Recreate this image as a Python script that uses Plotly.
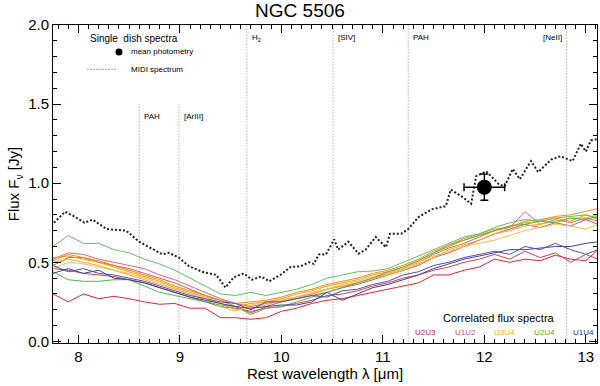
import plotly.graph_objects as go

# common wavelength grid of the correlated flux spectra [micron]
wl = [7.75, 7.90, 8.05, 8.20, 8.35, 8.50, 8.65, 8.80, 8.95, 9.10, 9.25, 9.40,
      9.55, 9.70, 9.85, 10.00, 10.15, 10.30, 10.45, 10.60, 10.75, 10.90, 11.05,
      11.20, 11.35, 11.50, 11.65, 11.80, 11.95, 12.10, 12.25, 12.40, 12.55,
      12.70, 12.85, 13.00, 13.12]

# correlated flux per baseline [Jy]
u2u3_a = [0.30, 0.25, 0.30, 0.27, 0.285, 0.27, 0.25, 0.235, 0.24, 0.21, 0.21, 0.15,
          0.15, 0.14, 0.15, 0.19, 0.21, 0.24, 0.26, 0.27, 0.29, 0.31, 0.33,
          0.35, 0.37, 0.42, 0.42, 0.45, 0.47, 0.52, 0.50, 0.52, 0.51,
          0.545, 0.52, 0.51, 0.58]
u2u3_b = [0.46, 0.45, 0.43, 0.42, 0.41, 0.39, 0.37, 0.34, 0.31, 0.28, 0.25, 0.22,
          0.21, 0.19, 0.21, 0.22, 0.24, 0.26, 0.29, 0.30, 0.32, 0.35, 0.37,
          0.40, 0.42, 0.45, 0.47, 0.50, 0.52, 0.55, 0.52, 0.57, 0.53,
          0.56, 0.50, 0.55, 0.52]
u1u2_a = [0.52, 0.56, 0.55, 0.52, 0.50, 0.48, 0.46, 0.42, 0.39, 0.35, 0.31, 0.27,
          0.24, 0.22, 0.24, 0.26, 0.28, 0.30, 0.33, 0.35, 0.37, 0.40, 0.43,
          0.46, 0.50, 0.55, 0.59, 0.62, 0.66, 0.70, 0.72, 0.82, 0.74,
          0.77, 0.75, 0.78, 0.76]
u1u2_b = [0.48, 0.53, 0.53, 0.50, 0.48, 0.46, 0.43, 0.40, 0.37, 0.33, 0.29, 0.26,
          0.22, 0.18, 0.22, 0.25, 0.27, 0.29, 0.31, 0.34, 0.36, 0.39, 0.42,
          0.45, 0.48, 0.53, 0.56, 0.60, 0.64, 0.68, 0.71, 0.74, 0.72,
          0.75, 0.73, 0.77, 0.74]
u3u4_a = [0.53, 0.54, 0.52, 0.50, 0.47, 0.44, 0.41, 0.38, 0.34, 0.31, 0.28, 0.26,
          0.22, 0.24, 0.25, 0.27, 0.30, 0.32, 0.35, 0.37, 0.39, 0.42, 0.44,
          0.47, 0.51, 0.56, 0.61, 0.64, 0.67, 0.70, 0.73, 0.75, 0.76,
          0.78, 0.76, 0.80, 0.77]
u3u4_b = [0.50, 0.52, 0.50, 0.48, 0.45, 0.42, 0.39, 0.36, 0.33, 0.30, 0.27, 0.24,
          0.20, 0.21, 0.23, 0.26, 0.28, 0.30, 0.33, 0.35, 0.37, 0.40, 0.42,
          0.45, 0.49, 0.53, 0.58, 0.61, 0.64, 0.68, 0.70, 0.73, 0.74,
          0.76, 0.78, 0.78, 0.80]
u3u4_c = [0.46, 0.50, 0.49, 0.47, 0.45, 0.43, 0.40, 0.37, 0.33, 0.30, 0.26, 0.22,
          0.19, 0.23, 0.25, 0.26, 0.28, 0.31, 0.33, 0.36, 0.38, 0.41, 0.43,
          0.46, 0.50, 0.54, 0.57, 0.60, 0.62, 0.64, 0.67, 0.70, 0.72,
          0.74, 0.73, 0.71, 0.74]
u3u4_d = [0.51, 0.55, 0.53, 0.51, 0.48, 0.45, 0.42, 0.39, 0.35, 0.32, 0.29, 0.26,
          0.24, 0.25, 0.26, 0.28, 0.31, 0.33, 0.36, 0.38, 0.40, 0.43, 0.45,
          0.48, 0.52, 0.57, 0.61, 0.65, 0.68, 0.71, 0.72, 0.76, 0.77,
          0.79, 0.80, 0.82, 0.84]
u2u4_a = [0.60, 0.67, 0.62, 0.62, 0.58, 0.56, 0.52, 0.49, 0.45, 0.40, 0.35, 0.30,
          0.29, 0.31, 0.29, 0.31, 0.33, 0.36, 0.40, 0.42, 0.44, 0.445, 0.46,
          0.50, 0.54, 0.58, 0.62, 0.66, 0.68, 0.72, 0.75, 0.77, 0.76,
          0.78, 0.79, 0.80, 0.78]
u2u4_b = [0.44, 0.39, 0.38, 0.38, 0.39, 0.39, 0.35, 0.31, 0.29, 0.27, 0.25, 0.23,
          0.22, 0.17, 0.21, 0.22, 0.25, 0.28, 0.31, 0.34, 0.37, 0.40, 0.44,
          0.47, 0.51, 0.56, 0.60, 0.64, 0.67, 0.70, 0.73, 0.74, 0.76,
          0.75, 0.78, 0.77, 0.79]
u1u4_a = [0.43, 0.46, 0.43, 0.45, 0.40, 0.39, 0.37, 0.34, 0.31, 0.28, 0.26, 0.24,
          0.22, 0.21, 0.22, 0.23, 0.23, 0.25, 0.31, 0.26, 0.30, 0.34, 0.36,
          0.39, 0.42, 0.46, 0.49, 0.52, 0.54, 0.56, 0.58, 0.58, 0.59,
          0.60, 0.60, 0.62, 0.63]
u1u4_b = [0.48, 0.44, 0.46, 0.43, 0.42, 0.40, 0.38, 0.35, 0.32, 0.29, 0.27, 0.25,
          0.24, 0.20, 0.25, 0.25, 0.27, 0.29, 0.28, 0.32, 0.33, 0.36, 0.38,
          0.42, 0.44, 0.48, 0.50, 0.53, 0.55, 0.57, 0.55, 0.60, 0.58,
          0.62, 0.58, 0.55, 0.58]

# MIDI total flux spectrum
midi_wl = [7.76, 7.87, 7.96, 8.06, 8.14, 8.28, 8.47, 8.60, 8.70, 8.83, 8.89, 8.99,
           9.09, 9.22, 9.36, 9.45, 9.53, 9.63, 9.71, 9.80, 9.88, 9.99, 10.09,
           10.19, 10.27, 10.32, 10.37, 10.44, 10.52, 10.56, 10.66, 10.76, 10.83,
           10.93, 11.03, 11.07, 11.18, 11.25, 11.35, 11.48, 11.62, 11.67, 11.79,
           11.87, 11.92, 12.02, 12.14, 12.20, 12.28, 12.35, 12.46, 12.53, 12.66,
           12.75, 12.87, 12.95, 13.00, 13.05, 13.12]
midi_flux = [0.75, 0.82, 0.79, 0.75, 0.77, 0.71, 0.70, 0.63, 0.595, 0.55, 0.56, 0.53,
             0.475, 0.44, 0.42, 0.34, 0.405, 0.43, 0.39, 0.41, 0.38, 0.42, 0.47,
             0.475, 0.50, 0.49, 0.55, 0.55, 0.645, 0.58, 0.63, 0.555, 0.58,
             0.66, 0.595, 0.68, 0.68, 0.71, 0.785, 0.835, 0.855, 0.96, 0.91,
             0.87, 1.045, 1.075, 0.995, 0.98, 1.09, 1.025, 1.14, 1.07, 1.15,
             1.17, 1.14, 1.25, 1.20, 1.27, 1.28]

# mean photometry
phot_wl = [12.0]
phot_flux = [0.975]
phot_xerr = [0.2]
phot_yerr = [0.083]

# spectral features: name, wavelength, top of the marker line
feature_names = ["PAH", "[ArIII]", "H<sub>2</sub>", "[SIV]", "PAH", "[NeII]"]
feature_wl = [8.6, 8.99, 9.66, 10.51, 11.25, 12.81]
feature_top = [1.5, 1.5, 2.0, 2.0, 2.0, 2.0]

baselines = ["U2U3", "U1U2", "U3U4", "U2U4", "U1U4"]
label_colors = ["#cc2233", "#c06070", "#f0b030", "#40b040", "#303080"]

spectra = [
    (u2u3_a, "#e02830"), (u2u3_b, "#d84050"),
    (u1u2_a, "#d86878"), (u1u2_b, "#c85868"),
    (u3u4_a, "#ff9a10"), (u3u4_b, "#ffa820"), (u3u4_c, "#f8c040"), (u3u4_d, "#ff8c00"),
    (u2u4_a, "#60c060"), (u2u4_b, "#50b850"),
    (u1u4_a, "#4040a0"), (u1u4_b, "#5050b0"),
]

FONT = "Liberation Sans, Arial, sans-serif"

fig = go.Figure()

for fw, ft in zip(feature_wl, feature_top):
    fig.add_trace(go.Scatter(x=[fw, fw], y=[-0.02, ft], mode="lines",
                             line=dict(color="#8a8a8a", width=1, dash="1px,2px"),
                             showlegend=False, hoverinfo="skip"))

for vals, col in spectra:
    fig.add_trace(go.Scatter(x=wl, y=vals, mode="lines",
                             line=dict(color=col, width=1), showlegend=False))

fig.add_trace(go.Scatter(x=midi_wl, y=midi_flux, mode="lines",
                         line=dict(color="#222222", width=2, dash="2px,2px"),
                         showlegend=False))

fig.add_trace(go.Scatter(
    x=phot_wl, y=phot_flux, mode="markers",
    marker=dict(color="black", size=15),
    error_x=dict(type="data", array=phot_xerr, color="black", thickness=1.5, width=4),
    error_y=dict(type="data", array=phot_yerr, color="black", thickness=1.5, width=4),
    showlegend=False))

# top-left key
fig.add_trace(go.Scatter(x=[8.4], y=[1.83], mode="markers",
                         marker=dict(color="black", size=7), showlegend=False))
fig.add_trace(go.Scatter(x=[8.09, 8.38], y=[1.72, 1.72], mode="lines",
                         line=dict(color="#444444", width=1, dash="1px,2px"),
                         showlegend=False))

ann = []
small = dict(family=FONT, size=8, color="black")
for name, fw, ft in zip(feature_names, feature_wl, feature_top):
    right = name == "[NeII]"
    ann.append(dict(x=fw + (-0.03 if right else 0.03), y=ft - 0.04, text=name,
                    showarrow=False, xanchor="right" if right else "left",
                    yanchor="top", font=small))

ann.append(dict(x=8.09, y=1.96, text="Single  dish spectra", showarrow=False,
                xanchor="left", yanchor="top", font=dict(family=FONT, size=10, color="black")))
ann.append(dict(x=8.5, y=1.83, text="mean photometry", showarrow=False,
                xanchor="left", yanchor="middle", font=small))
ann.append(dict(x=8.5, y=1.72, text="MIDI spectrum", showarrow=False,
                xanchor="left", yanchor="middle", font=small))
ann.append(dict(x=12.72, y=0.15, text="Correlated flux spectra", showarrow=False,
                xanchor="right", yanchor="middle", font=dict(family=FONT, size=11, color="black")))
for i, (b, c) in enumerate(zip(baselines, label_colors)):
    ann.append(dict(x=11.42 + 0.39 * i, y=0.057, text=b, showarrow=False,
                    xanchor="center", yanchor="middle",
                    font=dict(family=FONT, size=8, color=c)))

axis_font = dict(family=FONT, size=15, color="black")
common = dict(showgrid=False, zeroline=False, showline=True, linecolor="black",
              linewidth=1, mirror="allticks", ticks="inside", ticklen=8,
              tickcolor="black", tickfont=axis_font)

fig.update_layout(
    width=600, height=386,
    margin=dict(l=53, r=3, t=25, b=43),
    plot_bgcolor="white", paper_bgcolor="white",
    font=dict(family=FONT, color="black"),
    title=dict(text="NGC 5506", x=0.5, xanchor="center", y=0.99, yanchor="top",
               font=dict(family=FONT, size=19, color="black")),
    xaxis=dict(range=[7.75, 13.11], dtick=1, tick0=8,
               minor=dict(dtick=0.1, ticks="inside", ticklen=4, tickcolor="black"),
               title=dict(text="Rest wavelength λ [μm]", font=axis_font, standoff=2),
               **common),
    yaxis=dict(range=[-0.01, 2.0], dtick=0.5, tickformat=".1f",
               minor=dict(dtick=0.1, ticks="inside", ticklen=4, tickcolor="black"),
               title=dict(text="Flux F<sub>ν</sub> [Jy]", font=axis_font, standoff=4),
               **common),
    annotations=ann,
)

fig.write_html("out.html", config={"displayModeBar": False},
               post_script="document.body.style.margin='0';")
